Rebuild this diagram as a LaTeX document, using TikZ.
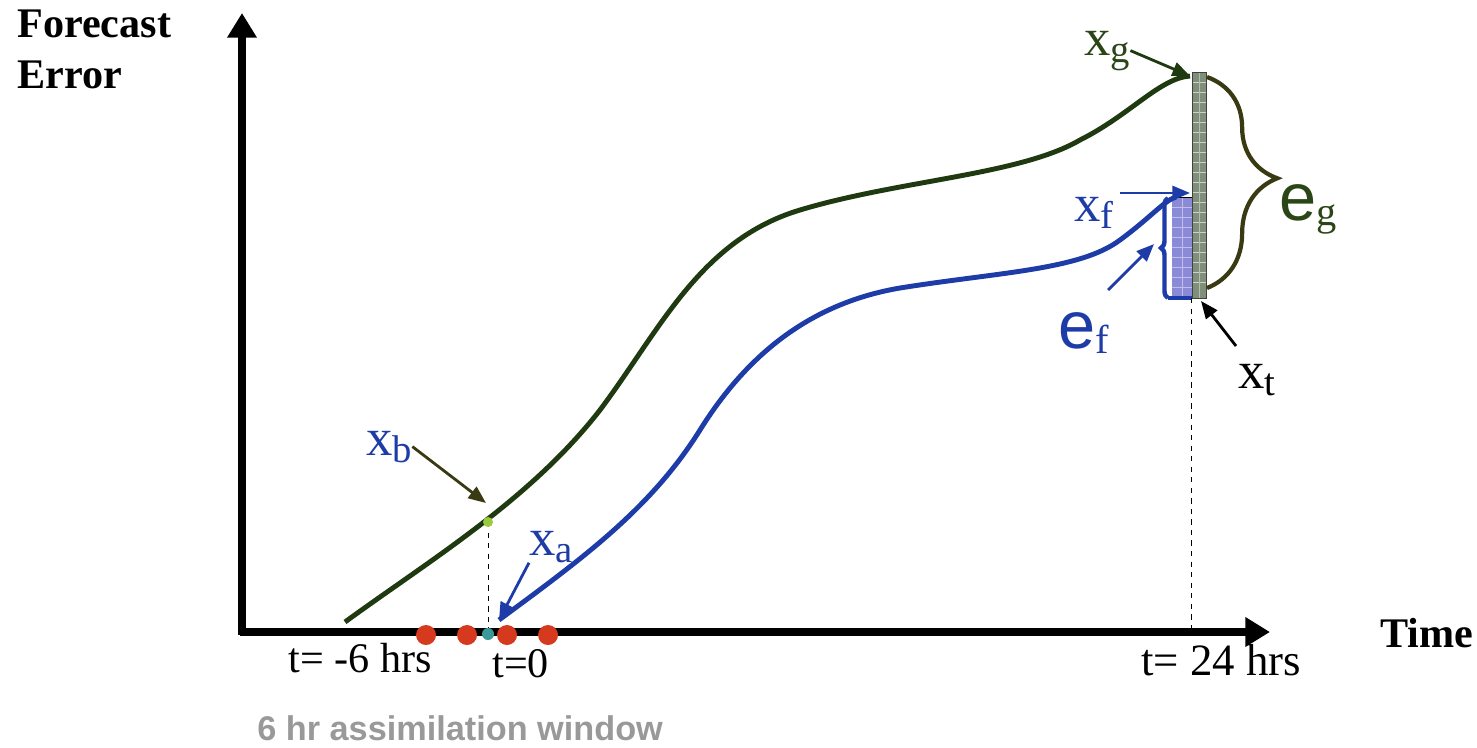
\documentclass[tikz,border=0pt]{standalone}
\usepackage{fontspec}
\setmainfont{Liberation Serif}
\setsansfont{Liberation Sans}
\usetikzlibrary{arrows.meta,decorations.pathreplacing}
\definecolor{greenx}{HTML}{1F3A10}
\definecolor{bluex}{HTML}{1E3CA8}
\definecolor{olivex}{HTML}{3A3A12}
\definecolor{labgreen}{HTML}{2B4616}
\definecolor{dotred}{HTML}{D63A1E}
\definecolor{dotteal}{HTML}{3A9A9A}
\definecolor{dotlime}{HTML}{9BCB3C}
\definecolor{barg}{HTML}{7F8F79}
\definecolor{barb}{HTML}{8A8AD6}
\definecolor{wingray}{HTML}{999999}
\tikzset{
  ax/.style={line width=5pt,-{Triangle[length=14pt,width=16pt]}},
  gcur/.style={line width=2.8pt,greenx},
  bcur/.style={line width=2.8pt,bluex},
  ar/.style={line width=1.6pt,-{Triangle[length=10pt,width=8pt]}},
  lbl/.style={inner sep=0pt,anchor=base west},
  tick/.style={inner sep=0pt,anchor=base west,font=\fontsize{24}{28}\selectfont},
  drop/.style={dashed,thin,black}
}
\newcommand{\xsub}[2]{{\fontsize{30}{30}\selectfont #1}\raisebox{-4pt}{\fontsize{22}{22}\selectfont #2}}
\newcommand{\esub}[2]{{\fontsize{38}{38}\selectfont\sffamily #1}\raisebox{-3pt}{\fontsize{23}{23}\selectfont #2}}

\begin{document}
\begin{tikzpicture}[x=0.02cm,y=-0.02cm]
\useasboundingbox (0,0) rectangle (1477,747);
% axes
\coordinate (ytop) at (242,13);
\coordinate (xend) at (1270,632);
\draw[ax] (242,634.5) -- (ytop);
\draw[ax] (239.5,632) -- (xend);
\node[lbl,align=left,font=\bfseries\fontsize{24}{29}\selectfont] (fe) at (17,88) {Forecast\\Error};
\node[lbl,font=\bfseries\fontsize{24}{28}\selectfont] (time) at (1380,647) {Time};
\node[tick] (tm6) at (288,672) {t= -6 hrs};
\node[tick] (t0) at (492,677) {t=0};
\node[tick,font=\fontsize{25.5}{28}\selectfont] (t24) at (1141,675) {t= 24 hrs};
\node[lbl,font=\sffamily\bfseries\fontsize{19.5}{19.5}\selectfont,wingray] (win) at (257,740) {6 hr assimilation window};
% error bars at 24 hrs
\fill[barb] (1172,197) rectangle (1192,298);
\foreach \yy in {207,217,...,290} \draw[white!45!barb,very thin] (1172,\yy) -- (1192,\yy);
\draw[white!45!barb,very thin] (1182,197) -- (1182,298);
\draw[black,thin] (1172,197) -- (1192,197);
\draw[bluex,line width=2pt] (1168,298) -- (1192,298);
\draw[bluex,line width=2.5pt,decorate,decoration={brace,amplitude=4pt}] (1168,298) -- (1168,198);
\fill[barg] (1192,72) rectangle (1206,298);
\foreach \yy in {82,92,...,290} \draw[white!60!barg,very thin] (1192,\yy) -- (1206,\yy);
\draw[white!40!barg,very thin] (1199,72) -- (1199,298);
\draw[black!75,thin] (1192,72) rectangle (1206,298);
\draw[olivex,line width=2.4pt,decorate,decoration={brace,amplitude=40pt,aspect=0.48}] (1207,77) -- (1207,288);
% drop lines
\coordinate (xb) at (488,522);
\coordinate (xa) at (499,620);
\coordinate (xg) at (1190,76);
\coordinate (xt) at (1191,298);
\draw[drop] (xb) -- (488,632);
\draw[drop] (xt) -- (1191,632);
% curves
\draw[gcur] (345,622) .. controls (430,560) and (530,500) .. (600,410)
  .. controls (660,330) and (700,240) .. (800,210)
  .. controls (900,180) and (1020,175) .. (1080,140)
  .. controls (1130,115) and (1160,78) .. (xg);
\draw[bcur] (xa) .. controls (580,560) and (650,510) .. (700,430)
  .. controls (740,366) and (800,305) .. (900,288)
  .. controls (1000,272) and (1080,270) .. (1120,240)
  .. controls (1150,218) and (1165,200) .. (1176,197);
% observations
\foreach \ox in {426,467,507,548} \fill[dotred] (\ox,635) circle (10);
\fill[dotteal] (488,634) circle (6);
\fill[dotlime] (xb) circle (5);
% labels
\node[lbl,bluex] (lxb) at (366,455) {\xsub{x}{b}};
\node[lbl,bluex] (lxa) at (529,555) {\xsub{x}{a}};
\node[lbl,labgreen] (lxg) at (1084,55) {\xsub{x}{g}};
\node[lbl,bluex] (lxf) at (1074,221) {\xsub{x}{f}};
\node[lbl] (lxt) at (1238,388) {\xsub{x}{t}};
\node[lbl,labgreen] (leg) at (1279,220) {\esub{e}{g}};
\node[lbl,bluex] (lef) at (1058,348) {\esub{e}{f}};
\coordinate (xbtip) at (486,503);
\coordinate (xfstart) at (1120,193);
\coordinate (xftip) at (1190,193);
\coordinate (efstart) at (1108,290);
\coordinate (eftip) at (1154,244);
\coordinate (xtstart) at (1236,346);
\coordinate (xttip) at (1201,301);
\draw[ar,olivex] (lxb.east) -- (xbtip);
\draw[ar,bluex] (lxa.south west) -- (xa);
\draw[ar,greenx] (lxg.east) -- (xg);
\draw[ar,bluex] (xfstart) -- (xftip);
\draw[ar,bluex] (efstart) -- (eftip);
\draw[ar,black] (xtstart) -- (xttip);
\end{tikzpicture}
\end{document}
